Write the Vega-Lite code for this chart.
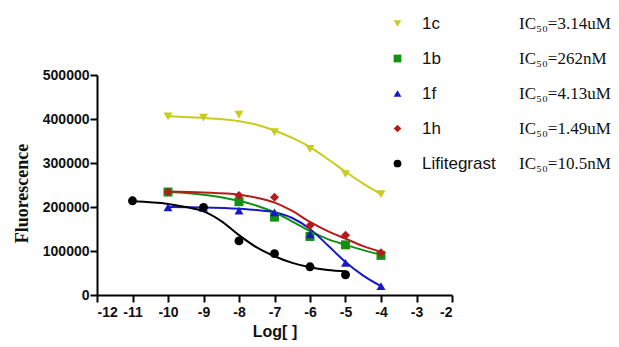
{
  "$schema": "https://vega.github.io/schema/vega-lite/v6.json",
  "width": 355,
  "height": 220,
  "autosize": {"type": "none"},
  "padding": {"left": 97, "top": 75, "right": 167, "bottom": 52},
  "background": "white",
  "datasets": {
    "pts": [
      {"series": "1c", "ic50": "IC₅₀=3.14uM", "logc": -10, "fluor": 406000},
      {"series": "1c", "ic50": "IC₅₀=3.14uM", "logc": -9, "fluor": 403000},
      {"series": "1c", "ic50": "IC₅₀=3.14uM", "logc": -8, "fluor": 410000},
      {"series": "1c", "ic50": "IC₅₀=3.14uM", "logc": -7, "fluor": 370000},
      {"series": "1c", "ic50": "IC₅₀=3.14uM", "logc": -6, "fluor": 332000},
      {"series": "1c", "ic50": "IC₅₀=3.14uM", "logc": -5, "fluor": 275000},
      {"series": "1c", "ic50": "IC₅₀=3.14uM", "logc": -4, "fluor": 229000},
      {"series": "1b", "ic50": "IC₅₀=262nM", "logc": -10, "fluor": 234000},
      {"series": "1b", "ic50": "IC₅₀=262nM", "logc": -8, "fluor": 212000},
      {"series": "1b", "ic50": "IC₅₀=262nM", "logc": -7, "fluor": 177000},
      {"series": "1b", "ic50": "IC₅₀=262nM", "logc": -6, "fluor": 133000},
      {"series": "1b", "ic50": "IC₅₀=262nM", "logc": -5, "fluor": 114000},
      {"series": "1b", "ic50": "IC₅₀=262nM", "logc": -4, "fluor": 90000},
      {"series": "1f", "ic50": "IC₅₀=4.13uM", "logc": -10, "fluor": 199000},
      {"series": "1f", "ic50": "IC₅₀=4.13uM", "logc": -9, "fluor": 198000},
      {"series": "1f", "ic50": "IC₅₀=4.13uM", "logc": -8, "fluor": 192000},
      {"series": "1f", "ic50": "IC₅₀=4.13uM", "logc": -7, "fluor": 188000},
      {"series": "1f", "ic50": "IC₅₀=4.13uM", "logc": -6, "fluor": 138000},
      {"series": "1f", "ic50": "IC₅₀=4.13uM", "logc": -5, "fluor": 73000},
      {"series": "1f", "ic50": "IC₅₀=4.13uM", "logc": -4, "fluor": 20000},
      {"series": "1h", "ic50": "IC₅₀=1.49uM", "logc": -10, "fluor": 234000},
      {"series": "1h", "ic50": "IC₅₀=1.49uM", "logc": -8, "fluor": 226000},
      {"series": "1h", "ic50": "IC₅₀=1.49uM", "logc": -7, "fluor": 222000},
      {"series": "1h", "ic50": "IC₅₀=1.49uM", "logc": -6, "fluor": 158000},
      {"series": "1h", "ic50": "IC₅₀=1.49uM", "logc": -5, "fluor": 136000},
      {"series": "1h", "ic50": "IC₅₀=1.49uM", "logc": -4, "fluor": 96000},
      {"series": "Lifitegrast", "ic50": "IC₅₀=10.5nM", "logc": -11, "fluor": 214000},
      {"series": "Lifitegrast", "ic50": "IC₅₀=10.5nM", "logc": -9, "fluor": 199000},
      {"series": "Lifitegrast", "ic50": "IC₅₀=10.5nM", "logc": -8, "fluor": 123000},
      {"series": "Lifitegrast", "ic50": "IC₅₀=10.5nM", "logc": -7, "fluor": 94000},
      {"series": "Lifitegrast", "ic50": "IC₅₀=10.5nM", "logc": -6, "fluor": 64000},
      {"series": "Lifitegrast", "ic50": "IC₅₀=10.5nM", "logc": -5, "fluor": 46000}
    ],
    "fit": [
      {"series": "1c", "logc": -10, "fluor": 406000},
      {"series": "1c", "logc": -9, "fluor": 402000},
      {"series": "1c", "logc": -8, "fluor": 395000},
      {"series": "1c", "logc": -7.5, "fluor": 387000},
      {"series": "1c", "logc": -7, "fluor": 374000},
      {"series": "1c", "logc": -6.5, "fluor": 357000},
      {"series": "1c", "logc": -6, "fluor": 336000},
      {"series": "1c", "logc": -5.5, "fluor": 309000},
      {"series": "1c", "logc": -5, "fluor": 280000},
      {"series": "1c", "logc": -4.5, "fluor": 253000},
      {"series": "1c", "logc": -4, "fluor": 229000},
      {"series": "1b", "logc": -10, "fluor": 234000},
      {"series": "1b", "logc": -9, "fluor": 228000},
      {"series": "1b", "logc": -8, "fluor": 214000},
      {"series": "1b", "logc": -7.5, "fluor": 203000},
      {"series": "1b", "logc": -7, "fluor": 188000},
      {"series": "1b", "logc": -6.5, "fluor": 167000},
      {"series": "1b", "logc": -6, "fluor": 145000},
      {"series": "1b", "logc": -5.5, "fluor": 127000},
      {"series": "1b", "logc": -5, "fluor": 114000},
      {"series": "1b", "logc": -4.5, "fluor": 102000},
      {"series": "1b", "logc": -4, "fluor": 91000},
      {"series": "1f", "logc": -10, "fluor": 200000},
      {"series": "1f", "logc": -9, "fluor": 199000},
      {"series": "1f", "logc": -8, "fluor": 196000},
      {"series": "1f", "logc": -7.5, "fluor": 193000},
      {"series": "1f", "logc": -7, "fluor": 188000},
      {"series": "1f", "logc": -6.5, "fluor": 175000},
      {"series": "1f", "logc": -6, "fluor": 150000},
      {"series": "1f", "logc": -5.5, "fluor": 113000},
      {"series": "1f", "logc": -5, "fluor": 75000},
      {"series": "1f", "logc": -4.5, "fluor": 44000},
      {"series": "1f", "logc": -4, "fluor": 20000},
      {"series": "1h", "logc": -10, "fluor": 235000},
      {"series": "1h", "logc": -9, "fluor": 233000},
      {"series": "1h", "logc": -8, "fluor": 228000},
      {"series": "1h", "logc": -7.5, "fluor": 221000},
      {"series": "1h", "logc": -7, "fluor": 210000},
      {"series": "1h", "logc": -6.5, "fluor": 191000},
      {"series": "1h", "logc": -6, "fluor": 166000},
      {"series": "1h", "logc": -5.5, "fluor": 145000},
      {"series": "1h", "logc": -5, "fluor": 128000},
      {"series": "1h", "logc": -4.5, "fluor": 111000},
      {"series": "1h", "logc": -4, "fluor": 98000},
      {"series": "Lifitegrast", "logc": -11, "fluor": 213000},
      {"series": "Lifitegrast", "logc": -10, "fluor": 207000},
      {"series": "Lifitegrast", "logc": -9.5, "fluor": 200000},
      {"series": "Lifitegrast", "logc": -9, "fluor": 190000},
      {"series": "Lifitegrast", "logc": -8.5, "fluor": 168000},
      {"series": "Lifitegrast", "logc": -8, "fluor": 136000},
      {"series": "Lifitegrast", "logc": -7.5, "fluor": 108000},
      {"series": "Lifitegrast", "logc": -7, "fluor": 88000},
      {"series": "Lifitegrast", "logc": -6.5, "fluor": 73000},
      {"series": "Lifitegrast", "logc": -6, "fluor": 63000},
      {"series": "Lifitegrast", "logc": -5.5, "fluor": 57000},
      {"series": "Lifitegrast", "logc": -5, "fluor": 54000}
    ]
  },
  "config": {
    "view": {"stroke": null},
    "axis": {
      "grid": false,
      "domainColor": "#000",
      "domainWidth": 2,
      "tickColor": "#000",
      "tickWidth": 2,
      "tickSize": 7,
      "labelFont": "Liberation Sans",
      "labelFontWeight": "bold",
      "labelFontSize": 14,
      "labelColor": "#111",
      "titleColor": "#111",
      "labelOverlap": false
    }
  },
  "encoding": {
    "x": {
      "field": "logc", "type": "quantitative",
      "scale": {"domain": [-12, -2], "nice": false, "zero": false},
      "axis": {"values": [-12, -11, -10, -9, -8, -7, -6, -5, -4, -3, -2], "labelExpr": "'' + datum.value", "labelPadding": 3, "labelOverlap": false,
        "title": "Log[ ]", "titleFont": "Liberation Sans", "titleFontWeight": "bold", "titleFontSize": 16, "titlePadding": 4}
    },
    "y": {
      "field": "fluor", "type": "quantitative",
      "scale": {"domain": [0, 500000], "nice": false},
      "axis": {"values": [0, 100000, 200000, 300000, 400000, 500000], "format": "d", "labelPadding": 1,
        "title": "Fluorescence", "titleFont": "Liberation Serif", "titleFontWeight": "bold", "titleFontSize": 18,
        "titleX": -66, "titleY": 118}
    }
  },
  "layer": [
    {
      "data": {"name": "fit"},
      "mark": {"type": "line", "interpolate": "monotone", "strokeWidth": 2},
      "encoding": {
        "color": {"field": "series", "type": "nominal"},
        "detail": {"field": "series"}
      }
    },
    {
      "data": {"name": "pts"},
      "mark": {"type": "point", "filled": true, "size": 80, "opacity": 1},
      "encoding": {
        "color": {
          "field": "series", "type": "nominal",
          "scale": {"domain": ["1c", "1b", "1f", "1h", "Lifitegrast"],
                    "range": ["#c9cc1a", "#139013", "#1818c8", "#b41c1c", "#000000"]},
          "legend": {"orient": "none", "legendX": 292, "legendY": -60, "title": null, "padding": 0,
                     "labelFont": "Liberation Sans", "labelFontSize": 17, "labelColor": "#111", "labelOffset": 16,
                     "symbolSize": 60, "rowPadding": 17, "symbolStrokeWidth": 0}
        },
        "shape": {
          "field": "series", "type": "nominal",
          "scale": {"domain": ["1c", "1b", "1f", "1h", "Lifitegrast"],
                    "range": ["triangle-down", "square", "triangle-up", "diamond", "circle"]},
          "legend": {"orient": "none", "legendX": 292, "legendY": -60, "title": null, "padding": 0,
                     "labelFont": "Liberation Sans", "labelFontSize": 17, "labelColor": "#111", "labelOffset": 16,
                     "symbolSize": 60, "rowPadding": 17, "symbolStrokeWidth": 0}
        },
        "opacity": {
          "field": "ic50", "type": "ordinal",
          "scale": {"domain": ["IC₅₀=3.14uM", "IC₅₀=262nM", "IC₅₀=4.13uM", "IC₅₀=1.49uM", "IC₅₀=10.5nM"], "range": [1, 1]},
          "legend": {"orient": "none", "legendX": 405, "legendY": -60, "title": null, "padding": 0,
                     "labelFont": "Liberation Serif", "labelFontSize": 17, "labelColor": "#111", "labelOffset": 0,
                     "symbolSize": 1, "symbolOpacity": 0, "symbolFillColor": "transparent", "symbolStrokeColor": "transparent",
                     "symbolStrokeWidth": 0, "rowPadding": 17, "labelLimit": 300}
        }
      }
    }
  ]
}
